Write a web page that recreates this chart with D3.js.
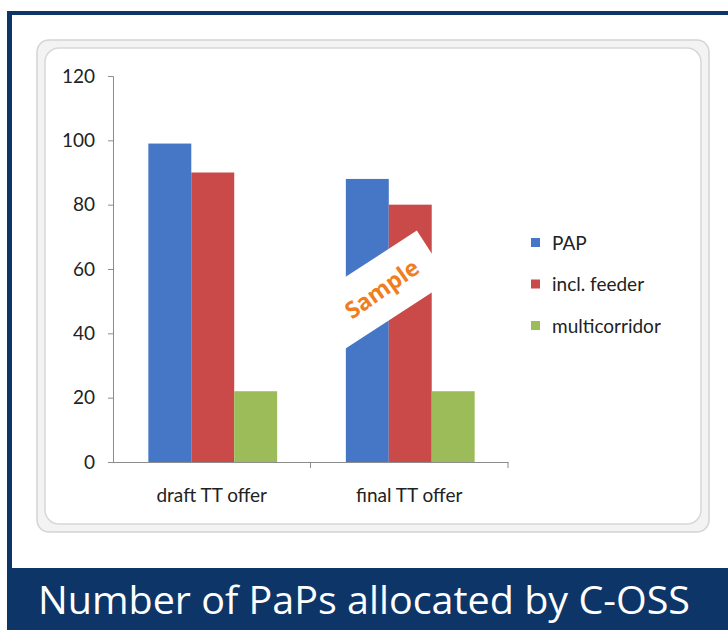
<!DOCTYPE html>
<html>
<head>
<meta charset="utf-8">
<script src="https://cdn.jsdelivr.net/npm/d3@7"></script>
<style>
  body { margin: 0; background: #fff; }
  svg { display: block; }
</style>
</head>
<body>
<div id="chart"></div>
<script>
// data
const categories = ["draft TT offer", "final TT offer"];
const seriesNames = ["PAP", "incl. feeder", "multicorridor"];
const papValues = [99, 88];
const feederValues = [90, 80];
const multiValues = [22, 22];
const yTicks = [0, 20, 40, 60, 80, 100, 120];
const colors = ["#4677c6", "#c94a48", "#9cbb59"];

const W = 728, H = 630;
const svg = d3.select("#chart").append("svg")
  .attr("width", W).attr("height", H);

// outer page frame
const navy = "#0d3568";
svg.append("rect").attr("x", 7).attr("y", 11).attr("width", W - 7).attr("height", 4).attr("fill", navy);
svg.append("rect").attr("x", 7).attr("y", 11).attr("width", 5).attr("height", 560).attr("fill", navy);
svg.append("rect").attr("x", 7).attr("y", 568).attr("width", W - 7).attr("height", H - 568).attr("fill", navy);

// banner title
svg.append("text")
  .attr("x", 38).attr("y", 614)
  .attr("textLength", 652).attr("lengthAdjust", "spacingAndGlyphs")
  .style("font-family", "'Open Sans', sans-serif")
  .style("font-size", "38px")
  .attr("fill", "#fff")
  .text("Number of PaPs allocated by C-OSS");

// chart frame (bevelled rounded rectangle)
svg.append("rect").attr("x", 37).attr("y", 40).attr("width", 672).attr("height", 492)
  .attr("rx", 12).attr("fill", "#f3f3f3").attr("stroke", "#d4d4d4").attr("stroke-width", 1.5);
svg.append("rect").attr("x", 45).attr("y", 48).attr("width", 656).attr("height", 476)
  .attr("rx", 14).attr("fill", "#fff").attr("stroke", "#d8d8d8").attr("stroke-width", 1.5);

// plot area
const plotLeft = 113, plotRight = 508, plotTop = 76, plotBottom = 462;

const x0 = d3.scaleBand().domain(categories).range([plotLeft, plotRight]).paddingInner(0).paddingOuter(0);
const x1 = d3.scaleBand().domain(seriesNames).range([0, x0.bandwidth()]).paddingOuter(0.8).paddingInner(0);
const y = d3.scaleLinear().domain([0, 120]).range([plotBottom, plotTop]);

const table = categories.map((c, i) => ({
  category: c,
  values: [papValues[i], feederValues[i], multiValues[i]]
}));

// bars
const groups = svg.append("g").selectAll("g").data(table).join("g")
  .attr("transform", d => `translate(${x0(d.category) + 1},0)`);
groups.selectAll("rect")
  .data(d => d.values.map((v, j) => ({ name: seriesNames[j], value: v, j })))
  .join("rect")
  .attr("x", d => x1(d.name))
  .attr("y", d => y(d.value))
  .attr("width", x1.bandwidth())
  .attr("height", d => y(0) - y(d.value))
  .attr("fill", d => colors[d.j]);

// y axis
const yAxis = svg.append("g")
  .attr("transform", `translate(${plotLeft},0)`)
  .call(d3.axisLeft(y).tickValues(yTicks).tickSize(5).tickPadding(13));
yAxis.select(".domain").attr("stroke", "#8c8c8c");
yAxis.selectAll(".tick line").attr("stroke", "#8c8c8c");
yAxis.selectAll("text")
  .style("font-family", "Lato, sans-serif").style("font-size", "19px").attr("fill", "#222");

// x axis
const xAxis = svg.append("g")
  .attr("transform", `translate(0,${plotBottom})`)
  .call(d3.axisBottom(x0).tickSize(0).tickPadding(27).tickSizeOuter(0));
xAxis.select(".domain").attr("stroke", "#8c8c8c");
xAxis.selectAll("text")
  .style("font-family", "Lato, sans-serif").style("font-size", "19px").attr("fill", "#222");
// category boundary ticks
svg.append("g").selectAll("line")
  .data(categories.map(c => x0(c)).slice(1).concat([plotRight]))
  .join("line")
  .attr("x1", d => d).attr("x2", d => d)
  .attr("y1", plotBottom).attr("y2", plotBottom + 6)
  .attr("stroke", "#8c8c8c");

// legend
const legend = svg.append("g").selectAll("g").data(seriesNames).join("g")
  .attr("transform", (d, i) => `translate(531,${243 + i * 41.5})`);
legend.append("rect").attr("x", 0).attr("y", -5).attr("width", 9).attr("height", 9)
  .attr("fill", (d, i) => colors[i]);
legend.append("text").attr("x", 21).attr("y", 0).attr("dy", "0.35em")
  .style("font-family", "Lato, sans-serif").style("font-size", "19px").attr("fill", "#222")
  .text(d => d);

// "Sample" watermark
const wm = svg.append("g").attr("transform", "translate(382,289)");
wm.append("rect").attr("x", -90).attr("y", -30).attr("width", 151).attr("height", 60)
  .attr("transform", "rotate(-33)").attr("fill", "#fff");
wm.append("text").attr("transform", "rotate(-35)")
  .attr("text-anchor", "middle").attr("dy", "0.35em")
  .style("font-family", "'Open Sans', sans-serif").style("font-weight", "bold").style("font-size", "23px")
  .attr("fill", "#f07d1e")
  .text("Sample");
</script>
</body>
</html>
